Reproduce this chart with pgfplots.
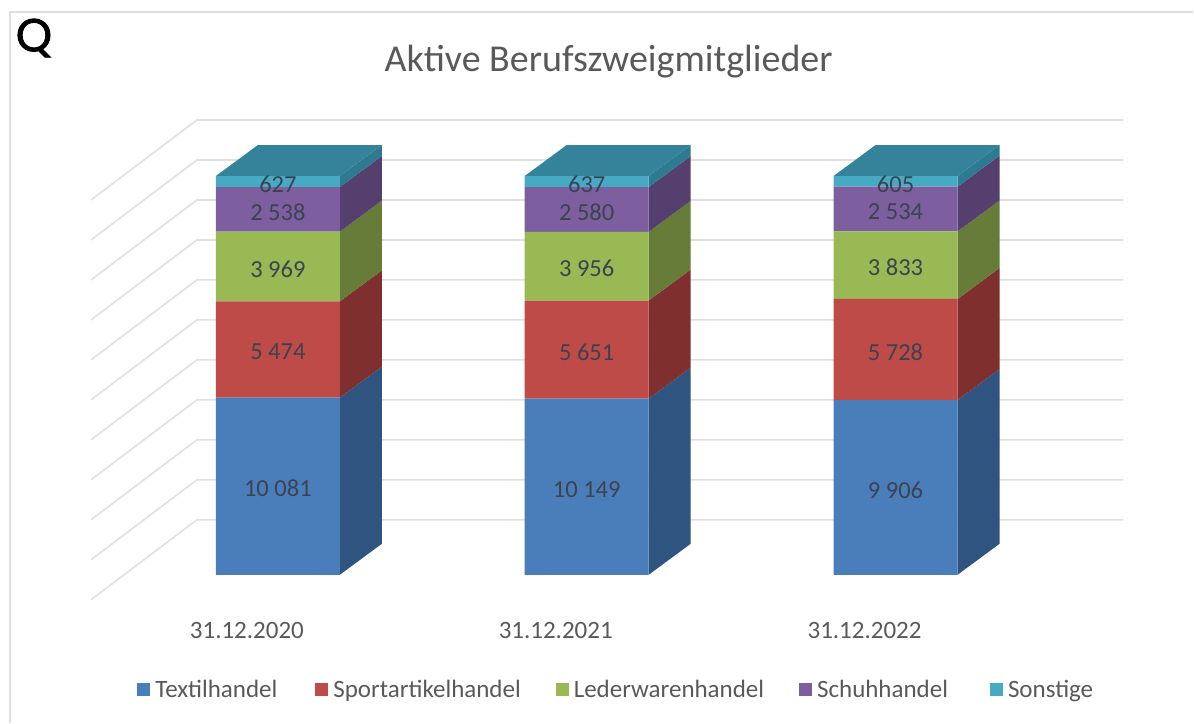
\documentclass[border=0pt]{standalone}
\usepackage{fontspec}
\setmainfont{Carlito}
\newfontfamily\qfont[FakeBold=2]{Poppins}
\usepackage{pgfplots}
\usepackage{pgfplotstable}
\pgfplotsset{compat=1.18}
\definecolor{cBlue}{HTML}{4A7EBB}\definecolor{sBlue}{HTML}{2F5480}
\definecolor{cRed}{HTML}{BE4B48}\definecolor{sRed}{HTML}{7F302E}
\definecolor{cGreen}{HTML}{98B954}\definecolor{sGreen}{HTML}{667C38}
\definecolor{cPurple}{HTML}{7D5FA0}\definecolor{sPurple}{HTML}{553F6F}
\definecolor{cTeal}{HTML}{46AAC5}\definecolor{sTeal}{HTML}{2E7A90}
\definecolor{cTop}{HTML}{34839A}
\definecolor{cGrid}{HTML}{E0E0E0}
\definecolor{cText}{HTML}{595959}
\definecolor{cLabel}{HTML}{3C4250}
% share of each year's total in percent (x, p) with the printed count (n)
\pgfplotstableread{
x p n
0 44.431 10081
1 44.178 10149
2 43.820 9906
}\tTextil
\pgfplotstableread{
x p n
0 24.126 5474
1 24.599 5651
2 25.338 5728
}\tSport
\pgfplotstableread{
x p n
0 17.493 3969
1 17.220 3956
2 16.956 3833
}\tLeder
\pgfplotstableread{
x p n
0 11.186 2538
1 11.231 2580
2 11.209 2534
}\tSchuh
\pgfplotstableread{
x p n
0 2.764 627
1 2.772 637
2 2.677 605
}\tSonst
\newcommand\side[4]{%
  \pgfmathsetmacro\xa{#1+0.2006}\pgfmathsetmacro\xb{#1+0.3366}%
  \pgfmathsetmacro\yc{#2+7.77}\pgfmathsetmacro\yd{#3+7.77}%
  \addplot[fill=#4,draw=none,forget plot] coordinates {(\xa,#2) (\xb,\yc) (\xb,\yd) (\xa,#3) (\xa,#2)};%
}
\newcommand\topface[1]{%
  \pgfmathsetmacro\xa{#1-0.2006}\pgfmathsetmacro\xb{#1+0.2006}%
  \pgfmathsetmacro\xc{#1+0.3366}\pgfmathsetmacro\xd{#1-0.0647}%
  \addplot[fill=cTop,draw=none,forget plot] coordinates {(\xa,100) (\xb,100) (\xc,107.77) (\xd,107.77) (\xa,100)};%
}
\pgfplotsset{common/.style={
  width=1194pt,height=723pt,scale only axis,
  xmin=-0.8997,xmax=2.9644,ymin=-37.093,ymax=144.11,
}}
\begin{document}
\begin{tikzpicture}
\begin{axis}[common,hide axis,clip=false]
% frame
\addplot[cGrid,line width=1.2pt,forget plot] coordinates {(-0.8673,-37.093) (-0.8673,141.1) (2.9644,141.1)};
% walls
\addplot[cGrid,line width=1.6pt,forget plot,unbounded coords=jump] table[row sep=\\] {
x y\\
-0.6052 -6.266\\ -0.2621 13.784\\ 2.7379 13.784\\ nan nan\\
-0.6052 3.759\\ -0.2621 23.809\\ 2.7379 23.809\\ nan nan\\
-0.6052 13.785\\ -0.2621 33.835\\ 2.7379 33.835\\ nan nan\\
-0.6052 23.810\\ -0.2621 43.860\\ 2.7379 43.860\\ nan nan\\
-0.6052 33.835\\ -0.2621 53.885\\ 2.7379 53.885\\ nan nan\\
-0.6052 43.860\\ -0.2621 63.910\\ 2.7379 63.910\\ nan nan\\
-0.6052 53.885\\ -0.2621 73.935\\ 2.7379 73.935\\ nan nan\\
-0.6052 63.910\\ -0.2621 83.960\\ 2.7379 83.960\\ nan nan\\
-0.6052 73.935\\ -0.2621 93.985\\ 2.7379 93.985\\ nan nan\\
-0.6052 83.960\\ -0.2621 104.01\\ 2.7379 104.01\\ nan nan\\
-0.6052 93.990\\ -0.2621 114.04\\ 2.7379 114.04\\
};
\side{0}{0}{44.431}{sBlue}\side{0}{44.431}{68.557}{sRed}\side{0}{68.557}{86.050}{sGreen}\side{0}{86.050}{97.236}{sPurple}\side{0}{97.236}{100}{sTeal}\topface{0}
\side{1}{0}{44.178}{sBlue}\side{1}{44.178}{68.777}{sRed}\side{1}{68.777}{85.997}{sGreen}\side{1}{85.997}{97.228}{sPurple}\side{1}{97.228}{100}{sTeal}\topface{1}
\side{2}{0}{43.820}{sBlue}\side{2}{43.820}{69.158}{sRed}\side{2}{69.158}{86.114}{sGreen}\side{2}{86.114}{97.323}{sPurple}\side{2}{97.323}{100}{sTeal}\topface{2}
\node[font=\qfont\fontsize{46}{46}\selectfont,text=black,anchor=center] at (axis description cs:0.0285,0.9475) {Q};
\end{axis}
\begin{axis}[common,
  ybar stacked,bar width=124pt,
  axis line style={draw=none},
  ytick=\empty,xtick={0,1,2},
  xticklabels={31.12.2020,31.12.2021,31.12.2022},
  major tick length=0pt,
  x tick label style={font=\fontsize{25}{28}\selectfont,text=cText,anchor=center,xshift=-31pt,yshift=92pt},
  title={Aktive Berufszweigmitglieder},
  title style={font=\fontsize{38}{44}\selectfont,text=cText,at={(axis description cs:0.51,0.9065)},anchor=center},
  point meta=explicit,
  nodes near coords={\pgfmathprintnumber[assume math mode=true,1000 sep={\ }]{\pgfplotspointmeta}},
  nodes near coords style={font=\fontsize{24.5}{28}\selectfont,text=cLabel,anchor=center,yshift=-2.5pt},
  legend columns=5,
  legend style={draw=none,fill=none,font=\fontsize{25}{28}\selectfont,text=cText,
    at={(axis description cs:0.5164,0.0456)},anchor=center,
    /tikz/every odd column/.style={column sep=3pt},
    /tikz/every even column/.style={column sep=33pt},
  },
  legend cell align=left,
  legend image code/.code={\fill[#1,draw=none] (0pt,-6.5pt) rectangle (13pt,6.5pt);},
]
\addplot[fill=cBlue,draw=none] table[x=x,y=p,meta=n] {\tTextil};
\addlegendentry{Textilhandel\rule{3pt}{0pt}}
\addplot[fill=cRed,draw=none] table[x=x,y=p,meta=n] {\tSport};
\addlegendentry{Sportartikelhandel}
\addplot[fill=cGreen,draw=none] table[x=x,y=p,meta=n] {\tLeder};
\addlegendentry{Lederwarenhandel}
\addplot[fill=cPurple,draw=none] table[x=x,y=p,meta=n] {\tSchuh};
\addlegendentry{Schuhhandel\rule{7pt}{0pt}}
\addplot[fill=cTeal,draw=none] table[x=x,y=p,meta=n] {\tSonst};
\addlegendentry{Sonstige}
\end{axis}
\end{tikzpicture}
\end{document}
